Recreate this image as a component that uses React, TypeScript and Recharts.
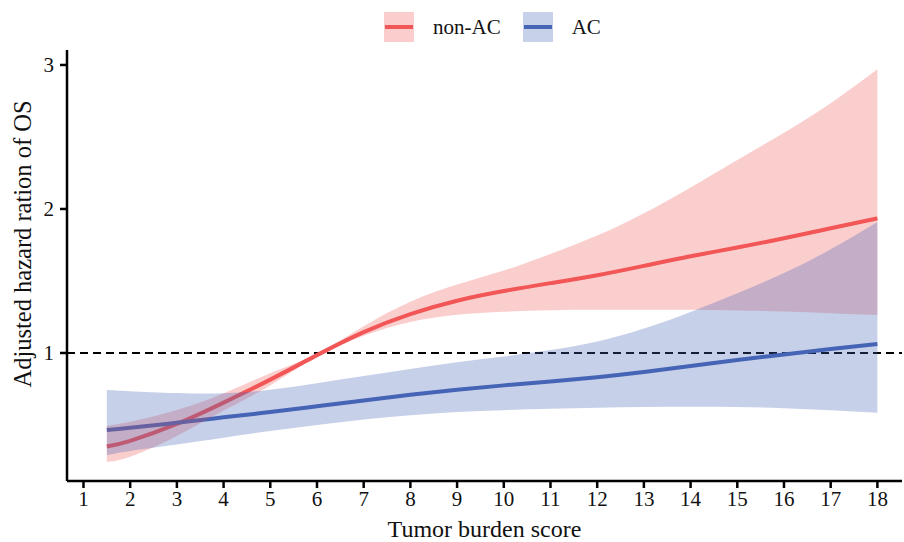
import {
  ComposedChart,
  Area,
  Line,
  XAxis,
  YAxis,
  ReferenceLine,
} from 'recharts';

// Tumor burden score sampled along the curves
const scores = [1.5, 2, 3, 4, 5, 6, 7, 8, 9, 10, 11, 12, 13, 14, 15, 16, 17, 18];

// non-AC group: fitted HR and 95% CI
const nonAcFit = [0.35, 0.39, 0.507, 0.655, 0.815, 0.985, 1.145, 1.27, 1.363, 1.43, 1.485, 1.54, 1.605, 1.672, 1.732, 1.797, 1.866, 1.935];
const nonAcLow = [0.245, 0.28, 0.424, 0.6, 0.775, 0.975, 1.12, 1.215, 1.265, 1.287, 1.297, 1.3, 1.3, 1.3, 1.295, 1.288, 1.276, 1.264];
const nonAcHigh = [0.495, 0.523, 0.604, 0.72, 0.86, 0.995, 1.185, 1.355, 1.475, 1.572, 1.688, 1.815, 1.97, 2.15, 2.34, 2.53, 2.735, 2.97];

// AC group: fitted HR and 95% CI
const acFit = [0.465, 0.48, 0.515, 0.553, 0.59, 0.63, 0.67, 0.71, 0.745, 0.775, 0.802, 0.832, 0.868, 0.91, 0.952, 0.99, 1.028, 1.0625];
const acLow = [0.29, 0.32, 0.365, 0.412, 0.458, 0.5, 0.538, 0.568, 0.59, 0.603, 0.613, 0.62, 0.625, 0.627, 0.625, 0.616, 0.602, 0.585];
const acHigh = [0.743, 0.735, 0.722, 0.72, 0.745, 0.79, 0.84, 0.888, 0.935, 0.975, 1.02, 1.08, 1.17, 1.285, 1.415, 1.555, 1.72, 1.91];

const xTicks = [1, 2, 3, 4, 5, 6, 7, 8, 9, 10, 11, 12, 13, 14, 15, 16, 17, 18];
const yTicks = [1, 2, 3];

const RED = '#F25757';
const BLUE = '#4565B5';
const FONT = '"Liberation Serif", "Times New Roman", serif';

const data = scores.map((x, i) => ({
  x,
  nonAc: nonAcFit[i],
  nonAcBand: [nonAcLow[i], nonAcHigh[i]],
  ac: acFit[i],
  acBand: [acLow[i], acHigh[i]],
}));

const legendItems = [
  { name: 'non-AC', color: RED },
  { name: 'AC', color: BLUE },
];

function Legend() {
  return (
    <div
      style={{
        position: 'absolute',
        top: 12,
        left: 384,
        display: 'flex',
        alignItems: 'center',
        fontFamily: FONT,
        fontSize: 21,
        color: '#111',
      }}
    >
      {legendItems.map((item, i) => (
        <div key={item.name} style={{ display: 'flex', alignItems: 'center', marginRight: i === 0 ? 22 : 0 }}>
          <div style={{ width: 30, height: 30, background: item.color, position: 'relative' }}>
            <div style={{ position: 'absolute', inset: 0, background: 'white', opacity: 0.7 }} />
            <div
              style={{
                position: 'absolute',
                left: 1,
                right: 1,
                top: 13,
                height: 4,
                background: item.color,
              }}
            />
          </div>
          <span style={{ marginLeft: 19 }}>{item.name}</span>
        </div>
      ))}
    </div>
  );
}

export default function App() {
  return (
    <div style={{ position: 'absolute', left: 0, top: 0, width: 904, height: 542, background: '#fff' }}>
      <ComposedChart
        width={904}
        height={542}
        data={data}
        margin={{ top: 50, right: 2, bottom: 0, left: 0 }}
      >
        <XAxis
          dataKey="x"
          type="number"
          domain={[0.647, 18.527]}
          allowDataOverflow
          ticks={xTicks}
          interval={0}
          height={61}
          axisLine={{ stroke: '#000', strokeWidth: 2.5 }}
          tickLine={{ stroke: '#000', strokeWidth: 2.5 }}
          tickSize={7}
          tickMargin={3}
          tick={{ fill: '#111', fontSize: 21, fontFamily: FONT }}
          label={{
            value: 'Tumor burden score',
            position: 'insideBottom',
            offset: 5,
            fill: '#111',
            fontSize: 24,
            fontFamily: FONT,
          }}
        />
        <YAxis
          type="number"
          domain={[0.111, 3.104]}
          allowDataOverflow
          ticks={yTicks}
          width={67}
          axisLine={{ stroke: '#000', strokeWidth: 2.5 }}
          tickLine={{ stroke: '#000', strokeWidth: 2.5 }}
          tickSize={7}
          tickMargin={6}
          tick={{ fill: '#111', fontSize: 21, fontFamily: FONT }}
          label={{
            content: () => (
              <text
                x={31}
                y={244}
                transform="rotate(-90 31 244)"
                textAnchor="middle"
                fill="#111"
                fontSize={24.5}
                fontFamily={FONT}
              >
                Adjusted hazard ration of OS
              </text>
            ),
          }}
        />
        <ReferenceLine y={1} stroke="#000" strokeWidth={2} strokeDasharray="8 5" />
        <Line
          type="natural"
          dataKey="nonAc"
          stroke={RED}
          strokeWidth={4}
          dot={false}
          activeDot={false}
          isAnimationActive={false}
        />
        <Line
          type="natural"
          dataKey="ac"
          stroke={BLUE}
          strokeWidth={4}
          dot={false}
          activeDot={false}
          isAnimationActive={false}
        />
        <Area
          type="natural"
          dataKey="nonAcBand"
          stroke="none"
          fill={RED}
          fillOpacity={0.29}
          zIndex={450}
          activeDot={false}
          isAnimationActive={false}
        />
        <Area
          type="natural"
          dataKey="acBand"
          stroke="none"
          fill={BLUE}
          fillOpacity={0.3}
          zIndex={460}
          activeDot={false}
          isAnimationActive={false}
        />
      </ComposedChart>
      <Legend />
    </div>
  );
}
